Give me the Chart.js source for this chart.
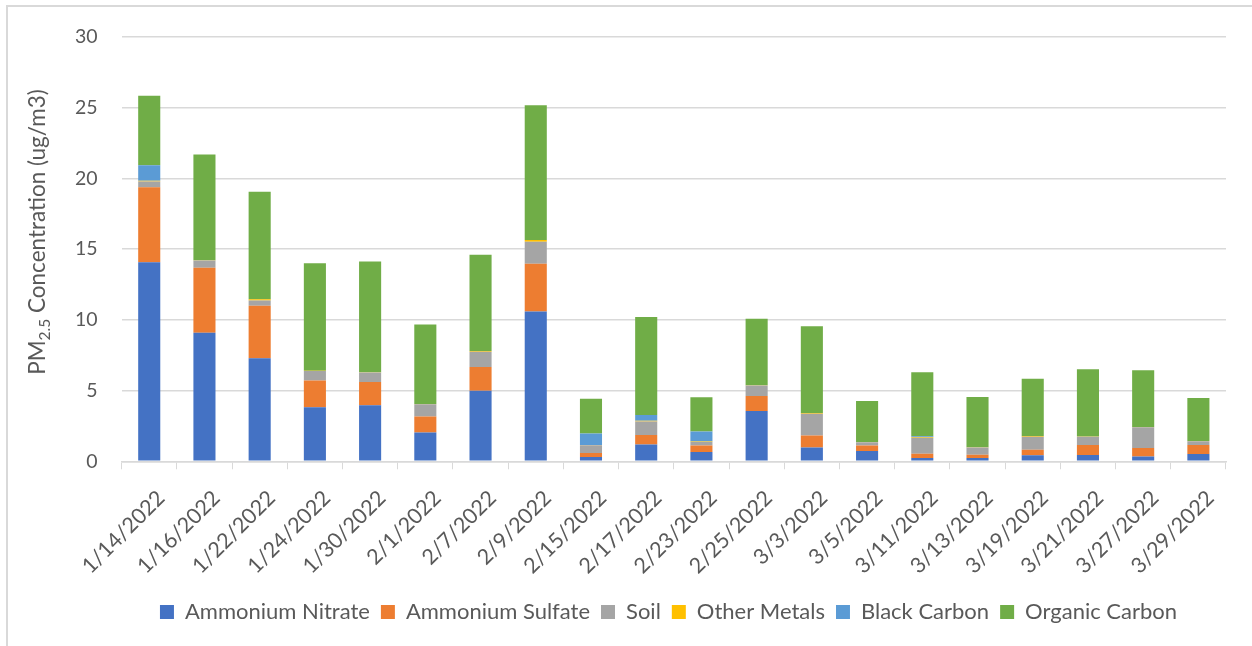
<!DOCTYPE html>
<html>
<head>
<meta charset="utf-8">
<script src="https://cdn.jsdelivr.net/npm/chart.js@4"></script>
<style>
  html, body { margin: 0; padding: 0; background: #fff; overflow: hidden; }
  #wrap { position: relative; width: 1252px; height: 646px; }
  #frame { position: absolute; left: 6px; top: 5px; width: 1300px; height: 700px;
           border-top: 2px solid #d9d9d9; border-left: 2px solid #d9d9d9; }
  canvas { position: absolute; left: 0; top: 0; }
</style>
</head>
<body>
<div id="wrap">
  <div id="frame"></div>
  <canvas id="pm_chart" width="1252" height="646"></canvas>
</div>
<script>
const dates = ['1/14/2022', '1/16/2022', '1/22/2022', '1/24/2022', '1/30/2022', '2/1/2022', '2/7/2022',
  '2/9/2022', '2/15/2022', '2/17/2022', '2/23/2022', '2/25/2022', '3/3/2022', '3/5/2022', '3/11/2022',
  '3/13/2022', '3/19/2022', '3/21/2022', '3/27/2022', '3/29/2022'];

const ammoniumNitrate = [14.08, 9.08, 7.29, 3.82, 3.96, 2.03, 4.98, 10.59, 0.31, 1.18, 0.66, 3.56, 0.97, 0.73, 0.24, 0.24, 0.42, 0.45, 0.33, 0.52];
const ammoniumSulfate = [5.29, 4.60, 3.70, 1.89, 1.65, 1.13, 1.69, 3.37, 0.28, 0.68, 0.45, 1.06, 0.85, 0.38, 0.30, 0.23, 0.40, 0.71, 0.61, 0.64];
const soil = [0.42, 0.52, 0.38, 0.68, 0.66, 0.87, 1.07, 1.56, 0.54, 0.95, 0.26, 0.73, 1.55, 0.23, 1.13, 0.50, 0.92, 0.58, 1.46, 0.26];
const otherMetals = [0.05, 0.02, 0.09, 0.02, 0.02, 0.02, 0.06, 0.12, 0.02, 0.05, 0.03, 0.02, 0.05, 0.02, 0.05, 0.02, 0.04, 0.02, 0.02, 0.02];
const blackCarbon = [1.10, -0.10, -0.10, -0.08, 0.00, -0.10, -0.08, -0.08, 0.81, 0.42, 0.70, 0.00, -0.10, -0.10, 0.05, -0.14, 0.00, -0.10, 0.00, -0.15];
const organicCarbon = [4.90, 7.48, 7.60, 7.60, 7.84, 5.62, 6.80, 9.53, 2.47, 6.93, 2.43, 4.70, 6.13, 2.91, 4.53, 3.56, 4.05, 4.75, 4.02, 3.04];

const yTicks = [0, 5, 10, 15, 20, 25, 30];

const textColor = '#595959';
const fontFamily = 'Lato, "Open Sans", sans-serif';

// y axis title with subscript "2.5"
const yTitle = {
  id: 'yTitle',
  afterDraw(chart) {
    const ctx = chart.ctx;
    const parts = [
      { t: 'PM', size: 22.5, dy: 0 },
      { t: '2.5', size: 15.5, dy: 7 },
      { t: ' Concentration (ug/m3)', size: 22.5, dy: 0 }
    ];
    ctx.save();
    let total = 0;
    parts.forEach(p => {
      ctx.font = p.size + 'px ' + fontFamily;
      p.w = ctx.measureText(p.t).width;
      total += p.w;
    });
    ctx.translate(38, 232);
    ctx.rotate(-Math.PI / 2);
    ctx.fillStyle = textColor;
    ctx.textBaseline = 'middle';
    let x = -total / 2;
    parts.forEach(p => {
      ctx.font = p.size + 'px ' + fontFamily;
      ctx.fillText(p.t, x, p.dy);
      x += p.w;
    });
    ctx.restore();
  }
};

// the legend sits a little right of centre in the original
const legendShift = {
  id: 'legendShift',
  afterLayout(chart) {
    chart.legend.left += 30;
    chart.legend.right += 30;
  }
};

const series = [
  { label: 'Ammonium Nitrate', data: ammoniumNitrate, backgroundColor: '#4472C4' },
  { label: 'Ammonium Sulfate', data: ammoniumSulfate, backgroundColor: '#ED7D31' },
  { label: 'Soil', data: soil, backgroundColor: '#A5A5A5' },
  { label: 'Other Metals', data: otherMetals, backgroundColor: '#FFC000' },
  { label: 'Black Carbon', data: blackCarbon, backgroundColor: '#5B9BD5' },
  { label: 'Organic Carbon', data: organicCarbon, backgroundColor: '#70AD47' }
];

const config = {
  type: 'bar',
  data: {
    labels: dates,
    datasets: series.map(s => ({
      label: s.label,
      data: s.data,
      backgroundColor: s.backgroundColor,
      borderWidth: 0,
      barPercentage: 0.4,
      categoryPercentage: 1
    }))
  },
  options: {
    responsive: false,
    animation: false,
    layout: { padding: { left: 51, top: 37, right: 26, bottom: 13 } },
    scales: {
      x: {
        stacked: true,
        grid: { drawOnChartArea: false, color: '#d9d9d9', tickLength: 8, offset: true },
        border: { color: '#d9d9d9', width: 1.5 },
        ticks: { color: textColor, font: { family: fontFamily, size: 21.5 }, maxRotation: 45, minRotation: 45, padding: 16, labelOffset: 12 },
        afterFit(scale) {
          scale.height -= 5;
          scale.paddingLeft = 0;
          scale.paddingRight = 0;
        }
      },
      y: {
        stacked: true,
        min: 0,
        max: 30,
        afterBuildTicks(axis) { axis.ticks = yTicks.map(v => ({ value: v })); },
        grid: { color: '#d9d9d9', lineWidth: 1.5, drawTicks: false },
        border: { display: false },
        ticks: { color: textColor, font: { family: fontFamily, size: 19.5 }, padding: 24 }
      }
    },
    plugins: {
      legend: {
        position: 'bottom',
        labels: { color: textColor, font: { family: fontFamily, size: 22 }, boxWidth: 14, boxHeight: 14, padding: 11 }
      },
      tooltip: { enabled: false }
    }
  },
  plugins: [yTitle, legendShift]
};

document.addEventListener('DOMContentLoaded', () => {
  new Chart(document.getElementById('pm_chart').getContext('2d'), config);
});
</script>
</body>
</html>
